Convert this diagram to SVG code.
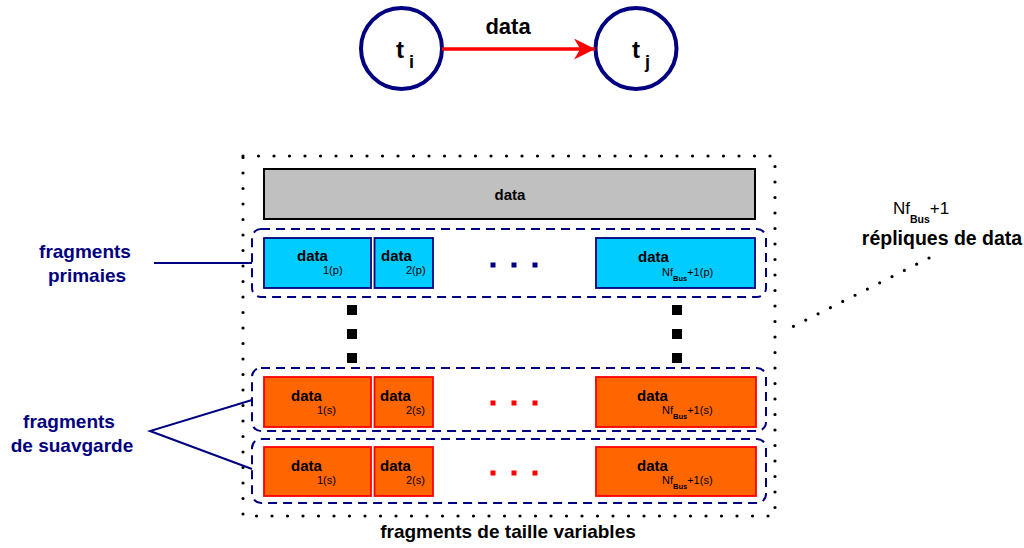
<svg xmlns="http://www.w3.org/2000/svg" width="1024" height="548" viewBox="0 0 1024 548">
  <defs>
    <style>
      text { font-family: "Liberation Sans", Arial, sans-serif; }
      .b { font-weight: bold; }
      .task { fill: #fff; stroke: #000080; stroke-width: 4; }
      .dots { fill: none; stroke: #000; stroke-width: 3.2; stroke-linecap: round; stroke-dasharray: 0 15.5; }
      .grp { fill: none; stroke: #000080; stroke-width: 2; stroke-dasharray: 9 6; }
      .prim { fill: #00ccff; stroke: #000080; stroke-width: 1.8; }
      .sec { fill: #ff6600; stroke: #ff0000; stroke-width: 1.8; }
      .lbl { fill: #000080; font-weight: bold; font-size: 19px; text-anchor: middle; }
      .lead { fill: none; stroke: #000080; stroke-width: 2; }
      .dt { font-size: 15px; font-weight: bold; }
      .sub { font-size: 11px; }
      .bus { font-size: 7.5px; font-weight: bold; }
    </style>
    <marker id="arrow" viewBox="0 0 10 10" refX="10" refY="5" markerWidth="6" markerHeight="6" markerUnits="strokeWidth" orient="auto">
      <path d="M0,0 L10,5 L0,10 L3,5 Z" fill="#ff0000"/>
    </marker>
  </defs>

  <!-- task graph: t_i -> t_j -->
  <g id="task-ti">
    <circle class="task" cx="401.5" cy="48.5" r="40.5"/>
    <text class="b" x="396" y="58" font-size="24">t</text>
    <text class="b" x="409" y="68" font-size="18">i</text>
  </g>
  <g id="task-tj">
    <circle class="task" cx="636" cy="48.5" r="40.5"/>
    <text class="b" x="632" y="58" font-size="24">t</text>
    <text class="b" x="645" y="68" font-size="18">j</text>
  </g>

  <!-- outer container (dotted) -->
  <g id="container">
    <rect class="dots" x="243" y="156" width="532" height="360"/>
  </g>

  <!-- whole data block -->
  <g id="data-block">
    <rect x="264" y="169" width="491" height="50" fill="#c0c0c0" stroke="#000" stroke-width="2"/>
    <text class="dt" x="510" y="200" text-anchor="middle">data</text>
  </g>

  <!-- primary fragments -->
  <g id="primary-row">
    <rect class="grp" x="252" y="229" width="514" height="68" rx="9"/>
    <rect class="prim" x="264" y="238" width="107" height="50"/>
    <text class="dt" x="297" y="261">data</text>
    <text class="sub" x="323" y="274">1(p)</text>
    <rect class="prim" x="374.5" y="238" width="58.5" height="50"/>
    <text class="dt" x="381" y="261">data</text>
    <text class="sub" x="406" y="274">2(p)</text>
    <g fill="#000080">
      <rect x="490.5" y="262.5" width="5" height="5"/>
      <rect x="511.5" y="262.5" width="5" height="5"/>
      <rect x="532.5" y="262.5" width="5" height="5"/>
    </g>
    <rect class="prim" x="596" y="238" width="159" height="50"/>
    <text class="dt" x="638" y="262">data</text>
    <text class="sub" x="662" y="276">Nf<tspan class="bus" dy="5">Bus</tspan><tspan dy="-5">+1(p)</tspan></text>
  </g>

  <!-- vertical ellipsis between primary and backup rows -->
  <g id="ellipsis" fill="#000">
    <rect x="347" y="305" width="10" height="10"/>
    <rect x="347" y="329" width="10" height="10"/>
    <rect x="347" y="353" width="10" height="10"/>
    <rect x="672" y="305" width="10" height="10"/>
    <rect x="672" y="329" width="10" height="10"/>
    <rect x="672" y="353" width="10" height="10"/>
  </g>

  <!-- backup fragments, first replica -->
  <g id="backup-row-1">
    <rect class="grp" x="252" y="368" width="514" height="63" rx="9"/>
    <rect class="sec" x="264" y="377" width="107" height="50"/>
    <text class="dt" x="291" y="401">data</text>
    <text class="sub" x="317" y="414">1(s)</text>
    <rect class="sec" x="374.5" y="377" width="58.5" height="50"/>
    <text class="dt" x="380" y="401">data</text>
    <text class="sub" x="406" y="414">2(s)</text>
    <g fill="#ff0000">
      <rect x="490.5" y="400.5" width="5" height="5"/>
      <rect x="511.5" y="400.5" width="5" height="5"/>
      <rect x="532.5" y="400.5" width="5" height="5"/>
    </g>
    <rect class="sec" x="596" y="377" width="160" height="50"/>
    <text class="dt" x="637" y="401">data</text>
    <text class="sub" x="662" y="414">Nf<tspan class="bus" dy="5">Bus</tspan><tspan dy="-5">+1(s)</tspan></text>
  </g>

  <!-- backup fragments, second replica -->
  <g id="backup-row-2">
    <rect class="grp" x="252" y="439" width="514" height="64" rx="9"/>
    <rect class="sec" x="264" y="447" width="107" height="49"/>
    <text class="dt" x="291" y="471">data</text>
    <text class="sub" x="317" y="484">1(s)</text>
    <rect class="sec" x="374.5" y="447" width="58.5" height="49"/>
    <text class="dt" x="380" y="471">data</text>
    <text class="sub" x="406" y="484">2(s)</text>
    <g fill="#ff0000">
      <rect x="490.5" y="470.5" width="5" height="5"/>
      <rect x="511.5" y="470.5" width="5" height="5"/>
      <rect x="532.5" y="470.5" width="5" height="5"/>
    </g>
    <rect class="sec" x="596" y="447" width="160" height="49"/>
    <text class="dt" x="637" y="471">data</text>
    <text class="sub" x="662" y="484">Nf<tspan class="bus" dy="5">Bus</tspan><tspan dy="-5">+1(s)</tspan></text>
  </g>

  <!-- labels -->
  <g id="label-primary">
    <text class="lbl" x="85" y="258">fragments</text>
    <text class="lbl" x="87" y="282">primaies</text>
  </g>
  <g id="label-backup">
    <text class="lbl" x="69" y="428">fragments</text>
    <text class="lbl" x="72" y="452">de suavgarde</text>
  </g>
  <g id="label-replicas">
    <text x="893" y="214" font-size="17">Nf<tspan font-size="10.5" font-weight="bold" dy="9">Bus</tspan><tspan dy="-9">+1</tspan></text>
    <text class="b" x="942" y="245" font-size="19.5" text-anchor="middle">répliques de data</text>
  </g>
  <g id="label-sizes">
    <text class="b" x="508" y="538" font-size="19" text-anchor="middle">fragments de taille variables</text>
  </g>

  <!-- connectors -->
  <g id="connectors">
    <line x1="442" y1="49" x2="595" y2="49" stroke="#ff0000" stroke-width="3.5" marker-end="url(#arrow)"/>
    <text class="b" x="508" y="34" font-size="22" text-anchor="middle">data</text>
    <line class="lead" x1="154" y1="263" x2="252" y2="263"/>
    <polyline class="lead" points="252,400 150,431 252,469"/>
    <line x1="929" y1="258" x2="790" y2="328" stroke="#000" stroke-width="3.2" stroke-linecap="round" stroke-dasharray="0 13.8"/>
  </g>
</svg>
